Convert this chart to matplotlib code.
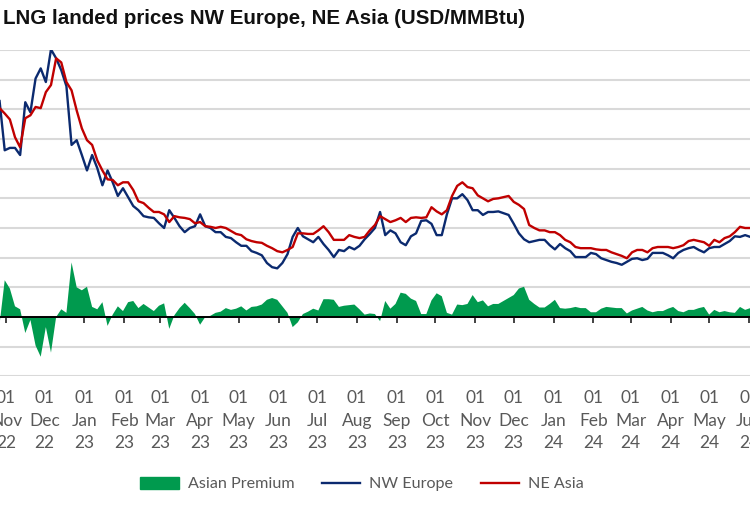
import matplotlib
matplotlib.use("Agg")
import matplotlib.pyplot as plt
import matplotlib.dates as mdates
from matplotlib.patches import Patch
from matplotlib.lines import Line2D
import pandas as pd

# LNG landed prices, USD/MMBtu, sampled every 4 days from 27 Oct 2022
nw_europe = [
    36.4, 28.1, 28.5, 28.5, 27.3, 36.2, 34.5, 40.2, 41.9, 39.6,
    45.1, 43.6, 41.6, 38.9, 29.0, 29.8, 27.3, 24.7, 27.3, 25.1,
    22.2, 24.7, 22.7, 20.4, 21.7, 20.2, 18.7, 18.0, 17.0, 16.8,
    16.7, 15.8, 15.0, 18.0, 16.7, 15.3, 14.3, 15.0, 15.3, 17.3,
    15.3, 15.0, 14.3, 14.3, 13.5, 13.3, 12.6, 12.0, 12.0, 11.1,
    10.8, 10.4, 9.1, 8.4, 8.2, 9.1, 10.6, 13.5, 15.0, 13.6,
    13.1, 12.6, 13.5, 12.3, 11.3, 10.1, 11.3, 11.1, 11.8, 11.4,
    12.0, 13.1, 14.0, 15.0, 17.7, 13.8, 14.6, 14.1, 12.6, 12.1,
    13.6, 14.1, 16.2, 16.3, 15.7, 13.8, 13.8, 17.3, 20.0, 20.0,
    20.7, 19.7, 18.0, 18.0, 17.2, 17.7, 17.7, 17.8, 17.5, 17.2,
    15.7, 14.1, 13.1, 12.6, 12.8, 13.0, 13.0, 12.1, 11.4, 12.3,
    11.6, 11.1, 10.1, 10.1, 10.1, 10.8, 10.6, 9.9, 9.6, 9.3,
    9.1, 8.8, 9.3, 9.8, 9.9, 9.6, 9.8, 10.8, 10.8, 10.8,
    10.4, 9.9, 10.8, 11.3, 11.6, 11.8, 11.3, 10.9, 11.6, 11.8,
    11.8, 12.3, 12.8, 13.6, 13.5, 13.8, 13.5,
]
ne_asia = [
    35.2, 34.3, 33.3, 30.3, 28.6, 33.5, 34.0, 35.4, 35.2, 37.9,
    39.1, 43.6, 42.9, 39.6, 38.2, 34.8, 31.8, 29.8, 29.0, 26.4,
    24.7, 23.2, 23.1, 22.2, 22.7, 22.7, 21.4, 19.5, 19.2, 18.4,
    17.7, 17.7, 17.3, 16.0, 17.0, 16.8, 16.7, 16.5, 15.8, 16.0,
    15.3, 15.2, 15.0, 15.2, 15.0, 14.5, 14.0, 13.8, 13.1, 12.8,
    12.6, 12.5, 12.0, 11.6, 11.1, 10.9, 11.3, 11.8, 14.1, 14.1,
    14.0, 14.0, 14.6, 15.3, 14.3, 13.0, 13.0, 13.0, 13.8, 13.5,
    13.3, 13.5, 14.6, 15.5, 17.0, 16.5, 16.0, 16.3, 16.7, 16.0,
    16.7, 16.8, 16.7, 16.8, 18.5, 17.8, 17.3, 18.0, 20.4, 22.1,
    22.7, 21.9, 21.7, 20.5, 20.0, 19.5, 19.9, 20.0, 20.2, 20.4,
    19.4, 18.9, 18.2, 15.5, 15.0, 14.6, 14.6, 14.3, 14.3, 13.8,
    13.0, 12.6, 11.8, 11.6, 11.6, 11.6, 11.4, 11.3, 11.3, 10.9,
    10.6, 10.3, 9.9, 10.9, 11.3, 11.3, 10.9, 11.6, 11.8, 11.8,
    11.8, 11.6, 11.8, 12.1, 12.8, 13.0, 12.8, 12.6, 12.0, 13.0,
    12.6, 13.3, 13.6, 14.3, 15.2, 15.0, 15.0,
]
dates = pd.date_range("2022-10-27", periods=len(nw_europe), freq="4D")
premium = [a - e for a, e in zip(ne_asia, nw_europe)]

green = "#009A4E"
navy = "#0B2A6F"
red = "#C00000"
grey_txt = "#595959"
font = ["Lato", "DejaVu Sans"]

W, H = 750, 508
fig = plt.figure(figsize=(W / 100, H / 100), dpi=100)

# the picture is a crop: axis labels sit off the left edge
d_nov = mdates.date2num(pd.Timestamp("2022-11-01"))
d_jun = mdates.date2num(pd.Timestamp("2024-06-01"))
ppd = (749 - 6) / (d_jun - d_nov)
x_lo, x_hi = d_nov - 12, d_jun + 10
left_px = 6 - 12 * ppd
right_px = 749 + 10 * ppd
ppu = (317 - 50) / 45
bottom_px = 317 + 10 * ppu
ax = fig.add_axes([left_px / W, 1 - bottom_px / H,
                   (right_px - left_px) / W, (bottom_px - 50) / H])

ax.fill_between(dates, 0, premium, color=green, linewidth=0, zorder=2)
ax.plot(dates, nw_europe, color=navy, lw=1.7, zorder=3)
ax.plot(dates, ne_asia, color=red, lw=1.7, zorder=3)

ax.set_xlim(x_lo, x_hi)
ax.set_ylim(-10, 45)
ax.set_yticks(range(-10, 46, 5))
ax.yaxis.grid(True, color="#d9d9d9", lw=1.5, zorder=0)
ax.set_axisbelow(True)
ax.tick_params(axis="y", length=0, labelleft=False)
for s in ["left", "right", "top"]:
    ax.spines[s].set_visible(False)
ax.spines["bottom"].set_position(("data", 0))
ax.spines["bottom"].set_color("black")
ax.spines["bottom"].set_linewidth(1.4)
ax.spines["bottom"].set_zorder(4)
ax.xaxis.set_major_locator(mdates.MonthLocator())
ax.tick_params(axis="x", direction="out", length=4, width=1.3,
               color="#333333", labelbottom=False)

sec = ax.secondary_xaxis(0.0)
sec.xaxis.set_major_locator(mdates.MonthLocator())
sec.xaxis.set_major_formatter(mdates.DateFormatter("%d\n%b\n%y"))
sec.spines["bottom"].set_visible(False)
sec.tick_params(length=0, pad=10, labelsize=12.5, labelcolor=grey_txt)
for lab in sec.get_xticklabels():
    lab.set_family(font)
    lab.set_linespacing(1.5)

fig.text(3 / W, 1 - 24 / H, "LNG landed prices NW Europe, NE Asia (USD/MMBtu)",
         fontsize=14.8, fontweight="bold", family="Liberation Sans",
         color="#111111", va="baseline", ha="left")

handles = [Patch(color=green, label="Asian Premium"),
           Line2D([], [], color=navy, lw=1.7, label="NW Europe"),
           Line2D([], [], color=red, lw=1.7, label="NE Asia")]
fig.legend(handles=handles, loc="center", bbox_to_anchor=(362 / W, 1 - 484 / H),
           ncol=3, frameon=False, handlelength=2.4, handleheight=0.75,
           handletextpad=0.55, columnspacing=1.7,
           prop={"family": font, "size": 11.6}, labelcolor=grey_txt)

fig.savefig("out.png", dpi=100)
